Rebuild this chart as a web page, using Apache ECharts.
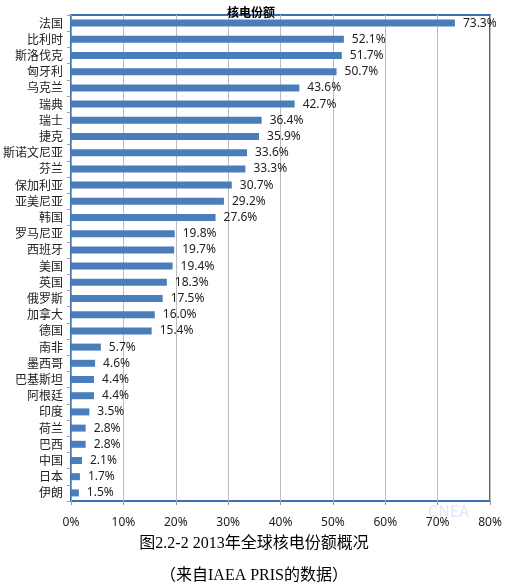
<!DOCTYPE html>
<html lang="zh">
<head>
  <meta charset="UTF-8">
  <title>核电份额</title>
  <script src="https://cdn.jsdelivr.net/npm/echarts@6/dist/echarts.min.js"></script>
  <style>
    html, body { margin: 0; padding: 0; background: #fff; }
    #target { width: 508px; height: 587px; }
  </style>
</head>
<body>
  <div id="target"></div>
  <script>
    const countries = ['法国', '比利时', '斯洛伐克', '匈牙利', '乌克兰', '瑞典', '瑞士', '捷克',
      '斯诺文尼亚', '芬兰', '保加利亚', '亚美尼亚', '韩国', '罗马尼亚', '西班牙', '美国', '英国',
      '俄罗斯', '加拿大', '德国', '南非', '墨西哥', '巴基斯坦', '阿根廷', '印度', '荷兰', '巴西',
      '中国', '日本', '伊朗'];
    const shares = [73.3, 52.1, 51.7, 50.7, 43.6, 42.7, 36.4, 35.9, 33.6, 33.3, 30.7, 29.2, 27.6,
      19.8, 19.7, 19.4, 18.3, 17.5, 16.0, 15.4, 5.7, 4.6, 4.4, 4.4, 3.5, 2.8, 2.8, 2.1, 1.7, 1.5];
    const xTicks = [0, 10, 20, 30, 40, 50, 60, 70, 80];

    const serif = '"Liberation Serif", "Noto Sans CJK SC", serif';
    const sans = '"Noto Sans CJK SC", "Noto Sans", sans-serif';

    const option = {
      animation: false,
      title: {
        text: '核电份额',
        left: 222, top: 1,
        textStyle: { fontSize: 12, fontWeight: 'bold', color: '#000', fontFamily: sans }
      },
      grid: {
        left: 70, right: 18, top: 15, bottom: 86,
        show: true, borderColor: '#3e6fb4', borderWidth: 2, backgroundColor: 'transparent'
      },
      xAxis: {
        type: 'value', min: xTicks[0], max: xTicks[xTicks.length - 1], interval: 10,
        axisLine: { show: false },
        axisTick: { show: true, length: 4, lineStyle: { color: '#999' } },
        splitLine: { show: true, lineStyle: { color: '#bdbdbd', width: 1 } },
        axisLabel: { formatter: '{value}%', fontSize: 12, color: '#222', margin: 16, fontFamily: '"Noto Sans", sans-serif' }
      },
      yAxis: {
        type: 'category', data: countries, inverse: true,
        axisLine: { show: true, lineStyle: { color: '#9a9a9a' } },
        axisTick: { show: true, length: 4, lineStyle: { color: '#9a9a9a' } },
        axisLabel: { fontSize: 12, color: '#222', margin: 8, fontFamily: sans }
      },
      series: [{
        type: 'bar', data: shares, barWidth: 7,
        itemStyle: { color: '#4a7ebb' },
        label: {
          show: true, position: 'right', distance: 8,
          formatter: p => p.value.toFixed(1) + '%',
          fontSize: 12, color: '#222', fontFamily: '"Noto Sans", sans-serif'
        }
      }],
      graphic: [
        {
          type: 'text', left: 'center', top: 536,
          style: { text: '图2.2-2 2013年全球核电份额概况', font: '16px ' + serif, fill: '#000' }
        },
        {
          type: 'text', left: 'center', top: 568,
          style: { text: '（来自IAEA PRIS的数据）', font: '16px ' + serif, fill: '#000' }
        },
        {
          type: 'text', left: 428, top: 503,
          style: { text: 'CNEA', font: '16px ' + sans, fill: '#dce9f6' }
        }
      ]
    };
    echarts.init(document.getElementById('target')).setOption(option);
  </script>
</body>
</html>
